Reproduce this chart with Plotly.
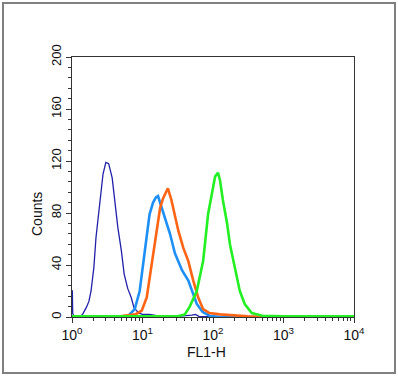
import numpy as np
import plotly.graph_objects as go

# log10(FL1-H) positions and counts
navy_log = [0.0, 0.005, 0.01, 0.03, 0.1, 0.15, 0.2, 0.24, 0.27, 0.31, 0.34, 0.39, 0.44, 0.48, 0.52, 0.57, 0.6, 0.65, 0.7, 0.74, 0.79, 0.84, 0.88, 0.95, 1.0, 1.1, 1.2, 1.3, 1.5, 1.7, 1.75, 1.8, 2.0, 4.0]
navy_cnt = [20, 20, 3, 0, 0, 2, 7, 12, 20, 38, 61, 87, 110, 119, 118, 107, 92, 69, 51, 33, 22, 15, 7, 3, 2, 2, 1, 1, 0.5, 1.5, 2, 0.5, 0, 0]

lblue_log = [0.0, 0.6, 0.8, 0.89, 0.96, 1.01, 1.06, 1.1, 1.15, 1.19, 1.22, 1.27, 1.32, 1.39, 1.46, 1.56, 1.65, 1.72, 1.77, 1.85, 1.95, 2.1, 4.0]
lblue_cnt = [0, 0, 1, 6, 20, 41, 59, 79, 88, 92, 93, 84, 76, 64, 49, 36, 28, 18, 10, 4, 1, 0, 0]

orange_log = [0.0, 0.6, 0.9, 0.99, 1.06, 1.1, 1.15, 1.2, 1.25, 1.29, 1.33, 1.36, 1.41, 1.46, 1.51, 1.58, 1.65, 1.72, 1.79, 1.86, 1.95, 2.1, 2.3, 2.5, 2.7, 4.0]
orange_cnt = [0, 0, 2, 5, 15, 30, 49, 69, 84, 91, 96, 99, 90, 77, 66, 53, 43, 28, 15, 6, 3, 2, 1, 0.5, 0, 0]

green_log = [0.0, 1.5, 1.6, 1.67, 1.77, 1.86, 1.93, 1.96, 1.99, 2.03, 2.07, 2.1, 2.14, 2.2, 2.24, 2.29, 2.34, 2.38, 2.45, 2.55, 2.7, 3.0, 4.0]
green_cnt = [0.5, 0.5, 2, 8, 20, 43, 79, 88, 98, 108, 111, 105, 90, 72, 56, 43, 30, 20, 10, 3, 1, 0.5, 0.5]

x_tick_vals = [1, 10, 100, 1000, 10000]
x_tick_text = ["10<sup>0</sup>", "10<sup>1</sup>", "10<sup>2</sup>", "10<sup>3</sup>", "10<sup>4</sup>"]
y_tick_vals = [0, 40, 80, 120, 160, 200]
x_title = "FL1-H"
y_title = "Counts"

series = [
    ("navy", navy_log, navy_cnt, "#2020aa", 1.3),
    ("lightblue", lblue_log, lblue_cnt, "#1e8ff5", 2.6),
    ("orange", orange_log, orange_cnt, "#ff6414", 2.6),
    ("green", green_log, green_cnt, "#22f022", 2.6),
]

fig = go.Figure()
for name, xs, ys, col, w in series:
    fig.add_trace(go.Scatter(
        x=10 ** np.array(xs), y=ys, mode="lines", name=name,
        line=dict(color=col, width=w), showlegend=False,
    ))

minor_x = [m * 10 ** d for d in range(4) for m in range(2, 10)]

font = dict(family="Liberation Sans, Arial, sans-serif", size=14, color="#111")
fig.update_layout(
    width=398, height=378,
    margin=dict(l=72, r=44, t=57, b=61, autoexpand=False),
    paper_bgcolor="white", plot_bgcolor="white",
    font=font,
    xaxis=dict(
        type="log", range=[0, 4], showgrid=False, zeroline=False,
        showline=True, mirror=True, linecolor="#333", linewidth=1.2,
        tickmode="array", tickvals=x_tick_vals, ticktext=x_tick_text,
        tickfont=dict(size=14),
        ticks="outside", ticklen=5, tickcolor="#333",
        minor=dict(tickvals=minor_x, ticks="outside", ticklen=3, tickcolor="#333"),
        automargin=False,
    ),
    yaxis=dict(
        range=[0, 200], showgrid=False, zeroline=False,
        showline=True, mirror=True, linecolor="#333", linewidth=1.2,
        tickmode="array", tickvals=y_tick_vals, tickangle=-90,
        tickfont=dict(size=13),
        ticks="outside", ticklen=5, tickcolor="#333",
        minor=dict(dtick=8, tick0=0, ticks="outside", ticklen=3, tickcolor="#333"),
        automargin=False,
    ),
    annotations=[
        dict(text=x_title, xref="paper", yref="paper",
             x=(206 - 72) / 282, y=(317 - 352) / 260,
             xanchor="center", yanchor="middle", showarrow=False, font=dict(size=14)),
        dict(text=y_title, xref="paper", yref="paper",
             x=(37 - 72) / 282, y=(317 - 214) / 260, textangle=-90,
             xanchor="center", yanchor="middle", showarrow=False, font=dict(size=14)),
    ],
    shapes=[dict(
        type="rect", xref="paper", yref="paper",
        x0=(3 - 72) / 282, x1=(395 - 72) / 282,
        y0=(317 - 373) / 260, y1=(317 - 3) / 260,
        line=dict(color="#808080", width=2), fillcolor="rgba(0,0,0,0)", layer="below",
    )],
)

fig.write_html(
    "out.html",
    config={"displayModeBar": False},
    post_script="document.body.style.margin='0';document.body.style.padding='0';",
)
